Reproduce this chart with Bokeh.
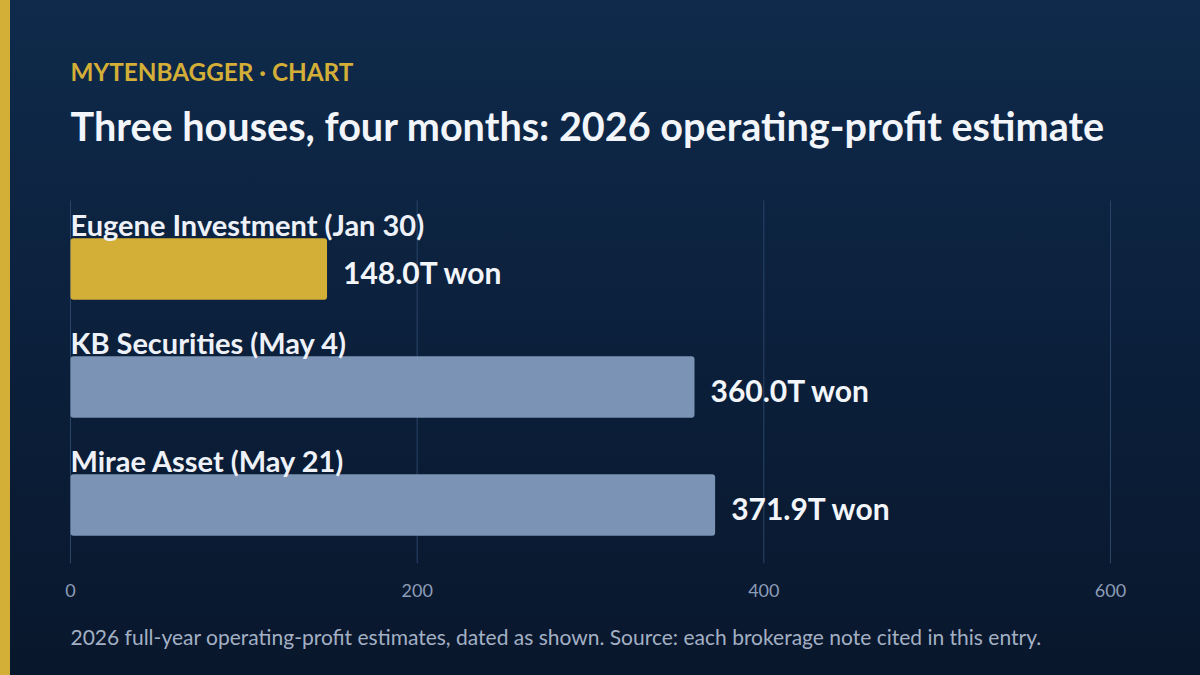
from bokeh.plotting import figure
from bokeh.models import ColumnDataSource, Range1d, FixedTicker, Title
from bokeh.core.properties import value
from bokeh.embed import file_html
from bokeh.resources import INLINE

# data
houses = ["Eugene Investment (Jan 30)", "KB Securities (May 4)", "Mirae Asset (May 21)"]
estimates = [148.0, 360.0, 371.9]
bar_colors = ["#d4af37", "#7b93b4", "#7b93b4"]
x_ticks = [0, 200, 400, 600]

kicker = "MYTENBAGGER · CHART"
title = "Three houses, four months: 2026 operating-profit estimate"
footer = ("2026 full-year operating-profit estimates, dated as shown. "
          "Source: each brokerage note cited in this entry.")

FONT = "Lato"
GOLD = "#d4af37"
BAR_H = 0.52

# page geometry (px)
W, H = 1200, 675
FRAME_H = 563                  # frame covers the top of the canvas down to the axis
X0_PX, X600_PX = 70, 1110      # where 0 and 600 land
ROW_PX, ROW0_PX = 118, 268.5   # bar spacing and first bar centre

px_per_unit = (X600_PX - X0_PX) / 600
x_start = -X0_PX / px_per_unit
x_end = 600 + (W - X600_PX) / px_per_unit
y_top = -ROW0_PX / ROW_PX
y_bot = (FRAME_H - ROW0_PX) / ROW_PX


def y_at(px):
    return (px - ROW0_PX) / ROW_PX


pos = list(range(len(houses)))
source = ColumnDataSource(dict(
    house=houses,
    est=estimates,
    color=bar_colors,
    y=pos,
    top=[y - BAR_H / 2 for y in pos],
    label=[f"{v:.1f}T won" for v in estimates],
))

# page background (gold edge + navy gradient) is plain CSS behind a transparent canvas
page_bg = ("linear-gradient(90deg, #d4af37 0px, #d4af37 10px, transparent 10px), "
           "linear-gradient(180deg, #0f2a4b 0%, #0b1f3a 55%, #09172c 100%)")

p = figure(width=W, height=H,
           x_range=Range1d(x_start, x_end),
           y_range=Range1d(y_bot, y_top),
           toolbar_location=None,
           output_backend="svg",
           min_border_left=0, min_border_right=0,
           min_border_top=0, min_border_bottom=H - FRAME_H,
           styles={"background": page_bg})
p.border_fill_color = None
p.background_fill_color = None
p.outline_line_color = None

# grid lines only over the bar area
p.xgrid.grid_line_color = None
p.ygrid.grid_line_color = None
p.segment(x0=x_ticks, x1=x_ticks, y0=y_at(200), y1=y_bot,
          line_color="#2b4569", line_width=1, level="underlay")

p.hbar(y="y", left=0, right="est", height=BAR_H, fill_color="color",
       line_color=None, border_radius=3, source=source)

# house names sit just above each bar
p.text(x=0, y="top", text="house", source=source, y_offset=-14,
       text_font=value(FONT), text_font_style="bold", text_font_size="29px",
       text_color="#eef2f8", text_baseline="middle", text_align="left")

# value at the end of each bar
p.text(x="est", y="y", text="label", source=source, x_offset=16, y_offset=3,
       text_font=value(FONT), text_font_style="bold", text_font_size="30px",
       text_color="#f2f5fa", text_baseline="middle", text_align="left")

# kicker and headline
p.text(x=[0], y=[y_at(71)], text=[kicker],
       text_font=value(FONT), text_font_style="bold", text_font_size="24.3px",
       text_color=GOLD, text_baseline="middle")
p.text(x=[0], y=[y_at(125)], text=[title],
       text_font=value(FONT), text_font_style="bold", text_font_size="39.6px",
       text_color="#f2f5fa", text_baseline="middle")

p.yaxis.visible = False
xa = p.xaxis[0]
xa.ticker = FixedTicker(ticks=x_ticks)
xa.axis_line_color = None
xa.major_tick_line_color = None
xa.minor_tick_line_color = None
xa.major_tick_out = 0
xa.major_tick_in = 0
xa.major_label_standoff = 20
xa.major_label_text_font = FONT
xa.major_label_text_font_size = "18px"
xa.major_label_text_color = "#8d9db8"

p.add_layout(Title(text=footer, align="left", offset=X0_PX, standoff=45,
                   text_font=FONT, text_font_style="normal", text_font_size="21px",
                   text_color="#a3b0c4"), "below")

open("out.html", "w").write(file_html(p, INLINE))
